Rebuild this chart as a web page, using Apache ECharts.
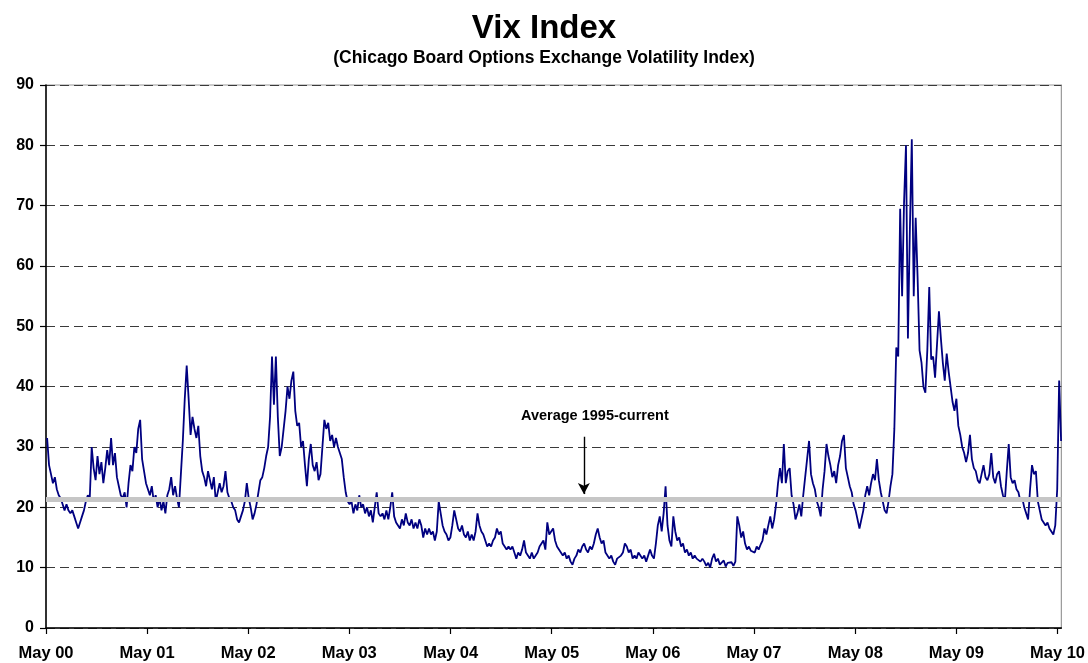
<!DOCTYPE html>
<html>
<head>
<meta charset="utf-8">
<title>Vix Index</title>
<script src="https://cdn.jsdelivr.net/npm/echarts@6/dist/echarts.min.js"></script>
<style>
  html, body { margin: 0; padding: 0; background: #fff; }
  #chart { width: 1088px; height: 663px; }
</style>
</head>
<body>
<div id="chart"></div>
<script>
// weekly closes, first one on Friday 5 May 2000, one array per May-to-April year
var firstWeek = Date.UTC(2000, 4, 5);
var vix2000 = [31.5,27,25.5,24,25,23,22,21.5,20.5,19.5, 20.5,19.5,19,19.5,18.5,17.5,16.5,17.5,18.5,19.5,
  21,22,21.5,30,26.5,24.5,28.5,25.5,27.5,24, 26.5,29.5,27,31.5,27,29,25,23.5,22,21.5,
  22.5,20,24,27,26,30,29,33,34.5,28, 26,24];
var vix2001 = [23,22,23.5,21,22,20,21.5,19.5,21,19, 22,23,25,22,23.5,21.5,20,25.5,31,38,
  43.5,38,32,35,33,31.5,33.5,28.5,26,25, 23.5,26,24.5,23,25,21,22.5,24,22.5,23.5,
  26,22.5,21.5,21,20,19.5,18,17.5,18.5,19.5, 21,24];
var vix2002 = [21.5,20,18,19,20.5,22.5,24.5,25,26.5,28.5, 30,35,45,37,45,35,28.5,30,33,36,
  40,38,41,42.5,36,33.5,34,30,31,27, 23.5,28,30.5,27,26,27.5,24.5,25.5,30,34.5,
  33,34,31,32,30,31.5,30,29,28,25, 22.5,21];
var vix2003 = [20.5,21,19,20.5,19.5,22,20,20.5,19,20, 18.5,19.5,17.5,20,22.5,19,18.5,19,18,19.5,
  18,20,22.5,18.5,17.5,17,16.5,18,17,19, 17.5,17,18,16.5,17.5,16.5,18,17,15,16.5,
  15.5,16.5,15.5,16,14.5,16,21,19,17,16, 15.5,14.5];
var vix2004 = [15,17,19.5,18,16.5,16,17,15.5,15,16, 14.5,15.5,14.5,16,19,17,16,15.5,14.5,13.5,
  14,13.5,14.5,15,16.5,15.5,16,14,13.5,13, 13.5,13,13.5,12.5,11.5,12.5,12,13,14.5,12.5,
  12,11.5,12.5,11.5,12,12.5,13.5,14,14.5,13, 17.5,15.5];
var vix2005 = [15.5,16.5,14.5,13.5,13,12.5,12,12.5,11.5,12, 11,10.5,11.5,12,13,12.5,13.5,14,13,12.5,
  13.5,13,14,15.5,16.5,15,14,14.5,12.5,12, 11.5,12,11,10.5,11.5,11.5,12,12.5,14,13.5,
  12.5,13,11.5,12,11.5,12.5,12,11.5,12,11, 12,13];
var vix2006 = [12,11.5,14,17,18.5,16,19,23.5,17,14.5, 13.5,18.5,16,14.5,15,13.5,14,12.5,13,12,
  12.5,11.5,12,11.5,11.8,11,11.5,11,10.3,10.8, 10,11.5,12.3,11,11.5,10.5,10.8,11.2,10.2,10.8,
  10.5,10.9,10.3,11,18.5,17,15,16,14,13, 13.5,12.8];
var vix2007 = [13,12.5,13.5,13,13.8,14.5,16.5,15.5,17,18.5, 16.5,18,20.5,24,26.5,24,30.5,24,26,26.5,
  22,20.5,18,19,20.5,18.5,22,25,28,31, 25.5,24,23,21,20,18.5,23,26,30.5,28.5,
  27,25,26,24,27,28.5,31,32,26.5,25, 23.5,22.5];
var vix2008 = [20.5,19.5,18,16.5,18,19.5,22,23.5,22,24, 25.5,24.5,28,24.5,22.5,21,19.5,19,21,23.5,
  25.5,33,46.5,45,69.5,55,70.5,80,48,66, 81,55,68,58,46,44,40,39,46,56.5,
  44.5,45,41.5,47,52.5,48,44,41,45.5,42.5, 40,37.5];
var vix2009 = [36,38,33.5,32,30,29,27.5,29,32,28, 26.5,26,24.5,24,25.5,27,25,24.5,25.5,29,
  25,24,25.5,26,23.5,22,21,26,30.5,25, 24,24.5,23,22.5,21,21.5,20,19,18,23,
  27,25.5,26,21,19.5,18,17.5,17,17.5,16.5, 16,15.5];
var vix2010 = [17,23,41,31];

var avgLevel = 21.3;           // average 1995-current
var annotDate = Date.UTC(2005, 7, 25);
var arrowTop = 31.7;
var arrowTip = 22.2;

var tickYears = [2000,2001,2002,2003,2004,2005,2006,2007,2008,2009,2010];
var axisStart = Date.UTC(2000, 4, 1);
var axisEnd = Date.UTC(2010, 4, 15);

var weekly = [].concat(vix2000, vix2001, vix2002, vix2003, vix2004, vix2005,
  vix2006, vix2007, vix2008, vix2009, vix2010);
var seriesData = weekly.map(function (v, i) {
  return [firstWeek + i * 7 * 86400000, v];
});
var tickValues = tickYears.map(function (y) { return Date.UTC(y, 4, 1); });

var font = 'Liberation Sans, Arial, sans-serif';
var chart = echarts.init(document.getElementById('chart'));
chart.setOption({
  animation: false,
  backgroundColor: '#fff',
  title: {
    text: 'Vix Index',
    subtext: '(Chicago Board Options Exchange Volatility Index)',
    left: 'center',
    top: 7,
    itemGap: 4,
    textStyle: { fontFamily: font, fontSize: 33, fontWeight: 'bold', color: '#000' },
    subtextStyle: { fontFamily: font, fontSize: 17.5, fontWeight: 'bold', color: '#000' }
  },
  grid: {
    left: 46, right: 26, top: 85, bottom: 35,
    show: true, borderColor: '#9a9a9a', borderWidth: 1.2
  },
  xAxis: {
    type: 'value',
    min: axisStart,
    max: axisEnd,
    axisLine: { lineStyle: { color: '#000', width: 1.5 } },
    axisTick: { customValues: tickValues, length: 6, lineStyle: { color: '#000', width: 1.2 } },
    axisLabel: {
      customValues: tickValues,
      margin: 17,
      fontFamily: font, fontSize: 16.5, fontWeight: 'bold', color: '#000',
      formatter: function (v) {
        return 'May ' + String(new Date(v).getUTCFullYear()).slice(2);
      }
    },
    splitLine: { show: false }
  },
  yAxis: {
    type: 'value',
    min: 0,
    max: 90,
    interval: 10,
    axisLine: { show: true, lineStyle: { color: '#000', width: 1.5 } },
    axisTick: { show: true, length: 6, lineStyle: { color: '#000', width: 1.2 } },
    axisLabel: { margin: 12, fontFamily: font, fontSize: 16, fontWeight: 'bold', color: '#000' },
    splitLine: { lineStyle: { color: '#3a3a3a', width: 1, type: [9, 5] } }
  },
  series: [{
    name: 'VIX',
    type: 'line',
    data: seriesData,
    showSymbol: false,
    lineStyle: { color: '#000080', width: 1.8 },
    markLine: {
      silent: true,
      animation: false,
      symbol: ['none', 'none'],
      data: [
        { yAxis: avgLevel, lineStyle: { color: '#c6c6c6', width: 5, type: 'solid' }, label: { show: false } },
        [
          {
            coord: [annotDate, arrowTop],
            symbol: 'none',
            lineStyle: { color: '#000', width: 1.4, type: 'solid' },
            label: {
              show: true,
              position: 'start',
              distance: 13,
              padding: [0, 0, 0, 22],
              formatter: 'Average 1995-current',
              fontFamily: font, fontSize: 14.5, fontWeight: 'bold', color: '#000'
            }
          },
          { coord: [annotDate, arrowTip], symbol: 'arrow', symbolSize: [9, 11] }
        ]
      ]
    }
  }]
});
</script>
</body>
</html>
